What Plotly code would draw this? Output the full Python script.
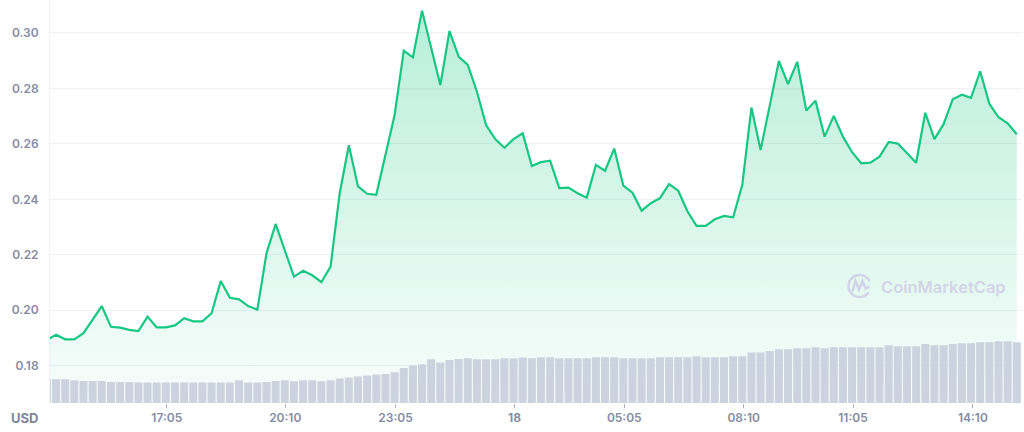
import math
import plotly.graph_objects as go

# ---------------- data ----------------
price = [
    0.1893, 0.1911, 0.1895, 0.1895, 0.1917, 0.1965, 0.2015, 0.1940, 0.1937, 0.1929,
    0.1925, 0.1977, 0.1938, 0.1938, 0.1945, 0.1971, 0.1960, 0.1960, 0.1989, 0.2105,
    0.2045, 0.2039, 0.2015, 0.2002, 0.2205, 0.2311, 0.2217, 0.2121, 0.2142, 0.2126,
    0.2101, 0.2157, 0.2422, 0.2595, 0.2447, 0.2420, 0.2416, 0.2566, 0.2704, 0.2936,
    0.2912, 0.3080, 0.2945, 0.2812, 0.3007, 0.2915, 0.2885, 0.2788, 0.2668, 0.2617,
    0.2586, 0.2617, 0.2638, 0.2520, 0.2534, 0.2539, 0.2440, 0.2442, 0.2422, 0.2406,
    0.2524, 0.2503, 0.2583, 0.2449, 0.2424, 0.2359, 0.2386, 0.2404, 0.2455, 0.2431,
    0.2357, 0.2304, 0.2304, 0.2328, 0.2340, 0.2335, 0.2452, 0.2731, 0.2578, 0.2737,
    0.2899, 0.2816, 0.2896, 0.2720, 0.2756, 0.2626, 0.2701, 0.2626, 0.2570, 0.2530,
    0.2532, 0.2554, 0.2607, 0.2601, 0.2568, 0.2532, 0.2712, 0.2617, 0.2671, 0.2761,
    0.2777, 0.2766, 0.2862, 0.2745, 0.2696, 0.2674, 0.2635,
]

volume_m = [
    9.5, 9.5, 9.5, 9.1, 8.8, 8.8, 8.8, 8.4, 8.4, 8.4,
    8.2, 8.2, 8.2, 8.2, 8.2, 8.2, 8.2, 8.2, 8.2, 8.2,
    8.2, 9.1, 8.2, 8.2, 8.4, 8.8, 9.1, 8.7, 9.1, 9.1,
    8.7, 9.1, 9.8, 10.2, 10.6, 11.0, 11.4, 11.6, 12.3, 14.0,
    15.0, 15.5, 17.5, 16.2, 17.2, 17.6, 17.9, 17.5, 17.5, 17.5,
    17.9, 17.9, 18.2, 17.9, 18.3, 18.3, 17.9, 17.9, 17.9, 17.9,
    18.3, 18.3, 18.3, 17.9, 17.9, 17.9, 17.9, 18.3, 18.3, 18.3,
    18.3, 18.7, 18.3, 18.3, 18.3, 18.7, 18.7, 20.2, 20.2, 20.8,
    21.5, 21.5, 21.9, 21.9, 22.3, 21.9, 22.3, 22.3, 22.3, 22.3,
    22.3, 22.3, 23.1, 22.7, 22.7, 22.7, 23.6, 23.1, 23.1, 23.6,
    23.9, 23.9, 24.3, 24.3, 24.7, 24.7, 24.3,
]

tick_idx = [13.1, 26.05, 38.1, 51.1, 63.1, 76.15, 88.1, 101.2]
tick_labels = ["17:05", "20:10", "23:05", "<b>18</b>", "05:05", "08:10", "11:05", "14:10"]

price_ticks = [0.18, 0.20, 0.22, 0.24, 0.26, 0.28, 0.30]

x_idx = list(range(len(price)))

# ---------------- styling ----------------
GREEN = "#16c784"
LABEL = "#858ca2"
GRID = "#eff1f5"
WM = "#d2d5e7"
FONT = "Inter, Roboto, 'Open Sans', sans-serif"

W, H = 1024, 432
ML, MR, MT, MB = 50, 2, 0, 29
PW, PH = W - ML - MR, H - MT - MB

fig = go.Figure()

fig.add_trace(go.Scatter(
    x=x_idx, y=price, mode="lines",
    line=dict(color=GREEN, width=2.2),
    fill="tozeroy",
    fillgradient=dict(
        type="vertical",
        colorscale=[[0, "rgba(22,199,132,0.03)"], [1, "rgba(22,199,132,0.30)"]],
        start=0.1665, stop=0.308,
    ),
    hoverinfo="skip",
))

fig.add_trace(go.Bar(
    x=x_idx, y=volume_m, yaxis="y2",
    marker=dict(color="#cbd3df", line=dict(width=0)),
    hoverinfo="skip",
))


# watermark (logo + text), pixel -> paper helpers
def px(x):
    return (x - ML) / PW


def py(y):
    return (H - MB - y) / PH


cx, cy, r = 859.5, 286.0, 11.0
arc = []
for k in range(0, 41):
    a = math.radians(35 + k * (300 / 40))  # leave a gap at lower right
    arc.append((cx + r * math.cos(a), cy + r * math.sin(a)))
arc_path = "M " + " L ".join(f"{px(x):.5f},{py(y):.5f}" for x, y in arc)
m_pts = [(852.5, 291.5), (855.5, 281.0), (859.0, 289.5), (862.5, 281.0), (865.5, 288.5), (869.5, 286.5)]
m_path = "M " + " L ".join(f"{px(x):.5f},{py(y):.5f}" for x, y in m_pts)

shapes = [
    dict(type="path", path=arc_path, xref="paper", yref="paper",
         line=dict(color=WM, width=2.6), layer="above"),
    dict(type="path", path=m_path, xref="paper", yref="paper",
         line=dict(color=WM, width=2.6), layer="above"),
]

annotations = [
    dict(text="CoinMarketCap", x=px(879), y=py(286.5), xref="paper", yref="paper",
         xanchor="left", yanchor="middle", showarrow=False,
         font=dict(family=FONT, size=16.5, color=WM, weight=600)),
    dict(text="USD", x=px(24), y=py(418), xref="paper", yref="paper",
         xanchor="center", yanchor="middle", showarrow=False,
         font=dict(family=FONT, size=13, color="#7f879c", weight=700)),
]

fig.update_layout(
    width=W, height=H,
    margin=dict(l=ML, r=MR, t=MT, b=MB),
    paper_bgcolor="white", plot_bgcolor="white",
    showlegend=False, bargap=0.12,
    shapes=shapes, annotations=annotations,
    xaxis=dict(
        range=[0.34, 106.57],
        tickmode="array", tickvals=tick_idx, ticktext=tick_labels,
        ticks="outside", ticklen=4, tickcolor="#a9b0c0", tickwidth=1,
        showgrid=False, zeroline=False, showline=False,
        tickfont=dict(family=FONT, size=12, color=LABEL, weight=600),
    ),
    yaxis=dict(
        range=[0.16652, 0.3119],
        tickmode="array", tickvals=price_ticks, tickformat=".2f",
        showgrid=True, gridcolor=GRID, gridwidth=1,
        zeroline=False, showline=True, linecolor=GRID, linewidth=1,
        ticks="", ticklabelstandoff=8,
        tickfont=dict(family=FONT, size=12, color=LABEL, weight=600),
    ),
    yaxis2=dict(
        overlaying="y", side="right", range=[0, 161.2],
        showgrid=False, zeroline=False, showticklabels=False, showline=False,
    ),
)

fig.write_html(
    "out.html",
    config={"displayModeBar": False},
    post_script="document.body.style.margin='0';document.body.style.overflow='hidden';",
)
